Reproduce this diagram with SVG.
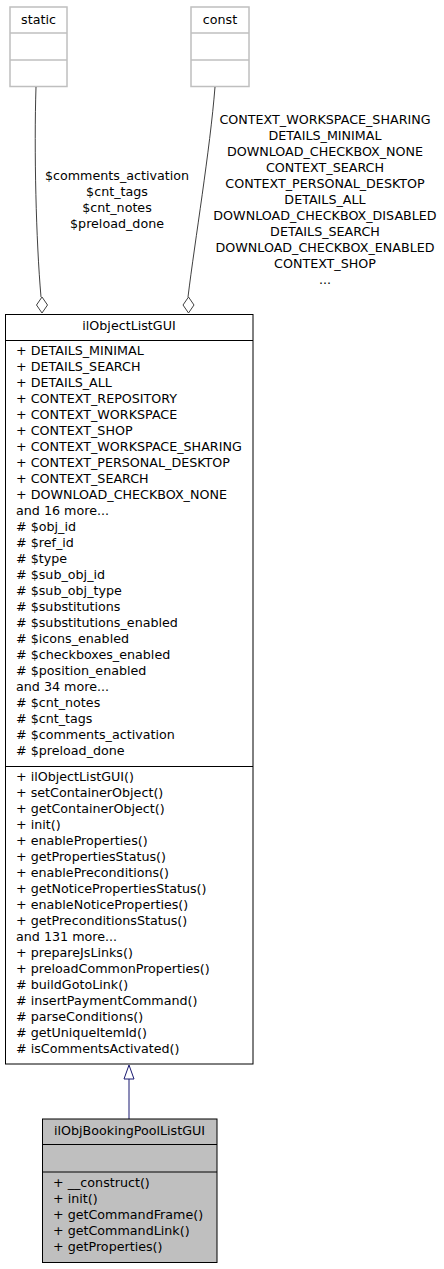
<svg xmlns="http://www.w3.org/2000/svg" width="444" height="1269" viewBox="0 0 444 1269">
<style>
text{font-family:"DejaVu Sans","Liberation Sans",sans-serif;font-size:12.7px;fill:#000}
.c{text-anchor:middle}
.gbox{fill:#fff;stroke:#bfbfbf;stroke-width:1.5}
.box{fill:#fff;stroke:#000;stroke-width:1}
.sel{fill:#bfbfbf;stroke:#000;stroke-width:1}
.e{fill:none;stroke:#404040;stroke-width:1}
.d{fill:#fff;stroke:#404040;stroke-width:1}
</style>
<rect width="444" height="1269" fill="#fff"/>
<g id="static">
<rect class="gbox" x="10" y="7" width="57" height="79.5"/>
<line class="gbox" x1="10" y1="33" x2="67" y2="33"/>
<line class="gbox" x1="10" y1="60" x2="67" y2="60"/>
<text class="c" x="38.5" y="24">static</text>
</g>
<g id="const">
<rect class="gbox" x="191" y="7" width="58" height="79.5"/>
<line class="gbox" x1="191" y1="33" x2="249" y2="33"/>
<line class="gbox" x1="191" y1="60" x2="249" y2="60"/>
<text class="c" x="220" y="24">const</text>
</g>
<g id="connectors">
<path class="e" d="M36,87 C34,150 36,240 41,297"/>
<polygon class="d" points="42,297 47.5,305 42,313 36.5,305"/>
<text class="c" x="117" y="180">$comments_activation</text>
<text class="c" x="117" y="196">$cnt_tags</text>
<text class="c" x="117" y="212">$cnt_notes</text>
<text class="c" x="117" y="228">$preload_done</text>
<path class="e" d="M215,87 C210,150 195,240 188,297"/>
<polygon class="d" points="188.5,297 194,305 188.5,313 183,305"/>
<text class="c" x="325" y="124">CONTEXT_WORKSPACE_SHARING</text>
<text class="c" x="325" y="140">DETAILS_MINIMAL</text>
<text class="c" x="325" y="156">DOWNLOAD_CHECKBOX_NONE</text>
<text class="c" x="325" y="172">CONTEXT_SEARCH</text>
<text class="c" x="325" y="188">CONTEXT_PERSONAL_DESKTOP</text>
<text class="c" x="325" y="204">DETAILS_ALL</text>
<text class="c" x="325" y="220">DOWNLOAD_CHECKBOX_DISABLED</text>
<text class="c" x="325" y="236">DETAILS_SEARCH</text>
<text class="c" x="325" y="252">DOWNLOAD_CHECKBOX_ENABLED</text>
<text class="c" x="325" y="268">CONTEXT_SHOP</text>
<text class="c" x="325" y="284">...</text>
<line x1="129" y1="1079" x2="129" y2="1119" stroke="#191970" stroke-width="1"/>
<polygon points="129,1065 134,1079 124,1079" fill="#fff" stroke="#191970" stroke-width="1"/>
</g>
<g id="ilObjectListGUI">
<rect class="box" x="5.5" y="314.5" width="247.5" height="749.5"/>
<line class="box" x1="5.5" y1="340.5" x2="253" y2="340.5"/>
<line class="box" x1="5.5" y1="766.5" x2="253" y2="766.5"/>
<text class="c" x="129" y="329.5">ilObjectListGUI</text>
<text x="16" y="355">+ DETAILS_MINIMAL</text>
<text x="16" y="371">+ DETAILS_SEARCH</text>
<text x="16" y="387">+ DETAILS_ALL</text>
<text x="16" y="403">+ CONTEXT_REPOSITORY</text>
<text x="16" y="419">+ CONTEXT_WORKSPACE</text>
<text x="16" y="435">+ CONTEXT_SHOP</text>
<text x="16" y="451">+ CONTEXT_WORKSPACE_SHARING</text>
<text x="16" y="467">+ CONTEXT_PERSONAL_DESKTOP</text>
<text x="16" y="483">+ CONTEXT_SEARCH</text>
<text x="16" y="499">+ DOWNLOAD_CHECKBOX_NONE</text>
<text x="16" y="515">and 16 more...</text>
<text x="16" y="531"># $obj_id</text>
<text x="16" y="547"># $ref_id</text>
<text x="16" y="563"># $type</text>
<text x="16" y="579"># $sub_obj_id</text>
<text x="16" y="595"># $sub_obj_type</text>
<text x="16" y="611"># $substitutions</text>
<text x="16" y="627"># $substitutions_enabled</text>
<text x="16" y="643"># $icons_enabled</text>
<text x="16" y="659"># $checkboxes_enabled</text>
<text x="16" y="675"># $position_enabled</text>
<text x="16" y="691">and 34 more...</text>
<text x="16" y="707"># $cnt_notes</text>
<text x="16" y="723"># $cnt_tags</text>
<text x="16" y="739"># $comments_activation</text>
<text x="16" y="755"># $preload_done</text>
<text x="16" y="781">+ ilObjectListGUI()</text>
<text x="16" y="797">+ setContainerObject()</text>
<text x="16" y="813">+ getContainerObject()</text>
<text x="16" y="829">+ init()</text>
<text x="16" y="845">+ enableProperties()</text>
<text x="16" y="861">+ getPropertiesStatus()</text>
<text x="16" y="877">+ enablePreconditions()</text>
<text x="16" y="893">+ getNoticePropertiesStatus()</text>
<text x="16" y="909">+ enableNoticeProperties()</text>
<text x="16" y="925">+ getPreconditionsStatus()</text>
<text x="16" y="941">and 131 more...</text>
<text x="16" y="957">+ prepareJsLinks()</text>
<text x="16" y="973">+ preloadCommonProperties()</text>
<text x="16" y="989"># buildGotoLink()</text>
<text x="16" y="1005"># insertPaymentCommand()</text>
<text x="16" y="1021"># parseConditions()</text>
<text x="16" y="1037"># getUniqueItemId()</text>
<text x="16" y="1053"># isCommentsActivated()</text>
</g>
<g id="ilObjBookingPoolListGUI">
<rect class="sel" x="42.5" y="1119" width="174.5" height="143.5"/>
<line class="sel" x1="42.5" y1="1144.5" x2="217" y2="1144.5"/>
<line class="sel" x1="42.5" y1="1172" x2="217" y2="1172"/>
<text class="c" x="129.5" y="1135">ilObjBookingPoolListGUI</text>
<text x="53" y="1187">+ __construct()</text>
<text x="53" y="1203">+ init()</text>
<text x="53" y="1219">+ getCommandFrame()</text>
<text x="53" y="1235">+ getCommandLink()</text>
<text x="53" y="1251">+ getProperties()</text>
</g>
</svg>
